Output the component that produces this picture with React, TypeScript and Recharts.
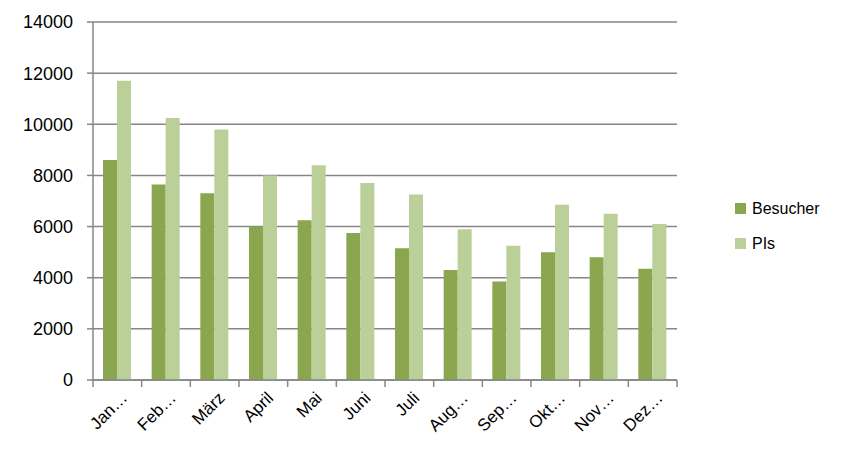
import React from "react";
import { BarChart, Bar, XAxis, YAxis, CartesianGrid, Legend } from "recharts";

const months = ["Jan…", "Feb…", "März", "April", "Mai", "Juni", "Juli", "Aug…", "Sep…", "Okt…", "Nov…", "Dez…"];
const besucher = [8600, 7650, 7300, 6000, 6250, 5750, 5150, 4300, 3850, 5000, 4800, 4350];
const pis = [11700, 10250, 9800, 8000, 8400, 7700, 7250, 5900, 5250, 6850, 6500, 6100];
const yTicks = [0, 2000, 4000, 6000, 8000, 10000, 12000, 14000];

const data = months.map((m, i) => ({ month: m, besucher: besucher[i], pis: pis[i] }));

const FONT = "'Liberation Sans', Arial, sans-serif";
const GRID = "#868686";
const DARK = "#8aa64f";
const LIGHT = "#bbcf98";

const MonthTick = (props: any) => {
    const { x, y, payload, index, width, visibleTicksCount } = props;
    const half = width / visibleTicksCount / 2;
    const axisY = y - 8; // tickSize 6 + tickMargin 2
    const tx = x + 11;
    const ty = axisY + 19;
    return (
        <g>
            <line x1={x - half} y1={axisY} x2={x - half} y2={axisY + 7} stroke={GRID} strokeWidth={1.5} />
            {index === visibleTicksCount - 1 && (
                <line x1={x + half} y1={axisY} x2={x + half} y2={axisY + 7} stroke={GRID} strokeWidth={1.5} />
            )}
            <text
                x={tx}
                y={ty}
                textAnchor="end"
                transform={`rotate(-45 ${tx} ${ty})`}
                fontFamily={FONT}
                fontSize={17}
                fill="#000"
            >
                {payload.value}
            </text>
        </g>
    );
};

const SideLegend = () => (
    <div style={{ fontFamily: FONT, fontSize: 16, color: "#000" }}>
        {[
            { name: "Besucher", color: DARK },
            { name: "PIs", color: LIGHT },
        ].map((item) => (
            <div key={item.name} style={{ display: "flex", alignItems: "center", height: 35 }}>
                <span style={{ width: 11, height: 11, background: item.color, marginRight: 6, display: "inline-block" }} />
                <span>{item.name}</span>
            </div>
        ))}
    </div>
);

export default function App() {
    return (
        <div style={{ position: "absolute", left: 0, top: 0, background: "#fff" }}>
            <BarChart
                width={844}
                height={452}
                data={data}
                barSize={14}
                barGap={0}
                margin={{ top: 22, right: 167, left: 0, bottom: 0 }}
            >
                <CartesianGrid vertical={false} stroke={GRID} strokeWidth={1.5} />
                <XAxis
                    dataKey="month"
                    height={72}
                    interval={0}
                    tickSize={6}
                    tickMargin={2}
                    tickLine={false}
                    axisLine={{ stroke: GRID, strokeWidth: 1.5 }}
                    tick={<MonthTick />}
                />
                <YAxis
                    width={93}
                    domain={[0, 14000]}
                    ticks={yTicks}
                    interval={0}
                    tickSize={6}
                    tickMargin={14}
                    tickLine={{ stroke: GRID, strokeWidth: 1.5 }}
                    axisLine={{ stroke: GRID, strokeWidth: 1.5 }}
                    tick={{ fill: "#000", fontSize: 18, fontFamily: FONT }}
                />
                <Legend
                    layout="horizontal"
                    verticalAlign="middle"
                    align="center"
                    content={<SideLegend />}
                    wrapperStyle={{ left: 735, top: 191, width: 110 }}
                />
                <Bar dataKey="besucher" name="Besucher" fill={DARK} isAnimationActive={false} />
                <Bar dataKey="pis" name="PIs" fill={LIGHT} isAnimationActive={false} />
            </BarChart>
        </div>
    );
}
